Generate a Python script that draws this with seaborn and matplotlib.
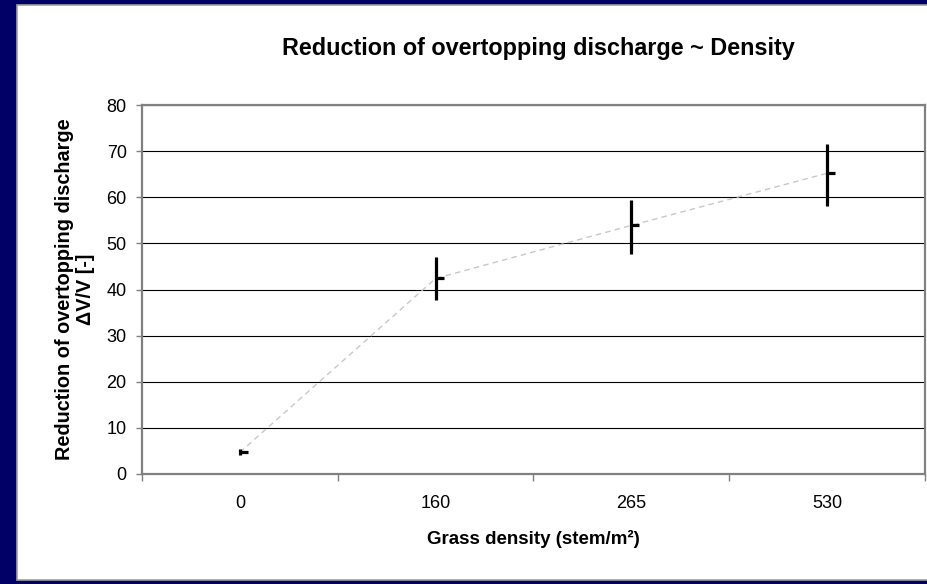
import matplotlib
matplotlib.use("Agg")
import matplotlib.pyplot as plt
import seaborn as sns
import pandas as pd
from matplotlib.patches import Rectangle
from matplotlib.ticker import FixedLocator

# ---- data ----
categories = ["0", "160", "265", "530"]
high = [5.4, 47.0, 59.3, 71.5]
low = [4.1, 37.8, 47.8, 58.0]
close = [4.7, 42.4, 53.9, 65.2]
y_ticks = [0, 10, 20, 30, 40, 50, 60, 70, 80]
title = "Reduction of overtopping discharge ~ Density"
x_label = "Grass density (stem/m\u00b2)"
y_label = "Reduction of overtopping discharge\n\u0394V/V [-]"

sns.set_theme(style="white")
plt.rcParams["font.family"] = ["Liberation Sans", "DejaVu Sans"]

W, H = 928, 584
fig = plt.figure(figsize=(W / 100, H / 100), dpi=100, facecolor="#000066")
fig.patches.append(Rectangle((17 / W, 4 / H), (W - 17) / W, (580 - 5) / H,
                             transform=fig.transFigure, facecolor="white",
                             edgecolor="#a0a0a0", lw=1.2, zorder=-10))

ax = fig.add_axes([142 / W, (H - 474) / H, (925 - 142) / W, (474 - 105) / H])
ax.set_facecolor("white")

df = pd.DataFrame({"density": categories, "close": close, "low": low, "high": high})
sns.lineplot(data=df, x="density", y="close", ax=ax, color="#c8c8c8",
             lw=1.0, linestyle=(0, (4, 3)), sort=False, zorder=2)
ax.vlines(df["density"], df["low"], df["high"], color="black", lw=2.3, zorder=3)
ax.plot(df["density"], df["close"], marker=1, ms=6, mew=2.3, color="black",
        linestyle="none", zorder=3)

ax.set_xlim(-0.5, len(categories) - 0.5)
ax.set_ylim(0, 80)
ax.set_yticks(y_ticks)
ax.yaxis.grid(True, color="black", lw=0.8)
ax.xaxis.grid(False)
ax.set_axisbelow(True)

ax.set_xticks(range(len(categories)))
ax.set_xticklabels(categories)
ax.xaxis.set_minor_locator(FixedLocator([i - 0.5 for i in range(len(categories) + 1)]))
ax.tick_params(axis="x", which="major", length=0, pad=15, labelsize=13, colors="black")
ax.tick_params(axis="x", which="minor", length=5, width=1, color="#808080", direction="out", bottom=True)
ax.tick_params(axis="y", which="major", length=4, width=1, color="#808080", direction="out",
               left=True, pad=7, labelsize=13, labelcolor="black")

for s in ax.spines.values():
    s.set_color("#808080")
    s.set_linewidth(1.6)
    s.set_zorder(4)

ax.set_xlabel(x_label, fontsize=13.5, fontweight="bold", labelpad=13, color="black")
ax.set_ylabel(y_label, fontsize=14.3, fontweight="bold", color="black", linespacing=1.15)
ax.yaxis.set_label_coords((95 - 142) / (925 - 142), 0.5)

fig.text(538 / W, 1 - 48 / H, title, ha="center", va="center",
         fontsize=16.8, fontweight="bold", color="black")

fig.savefig("out.png", dpi=100, facecolor=fig.get_facecolor())
